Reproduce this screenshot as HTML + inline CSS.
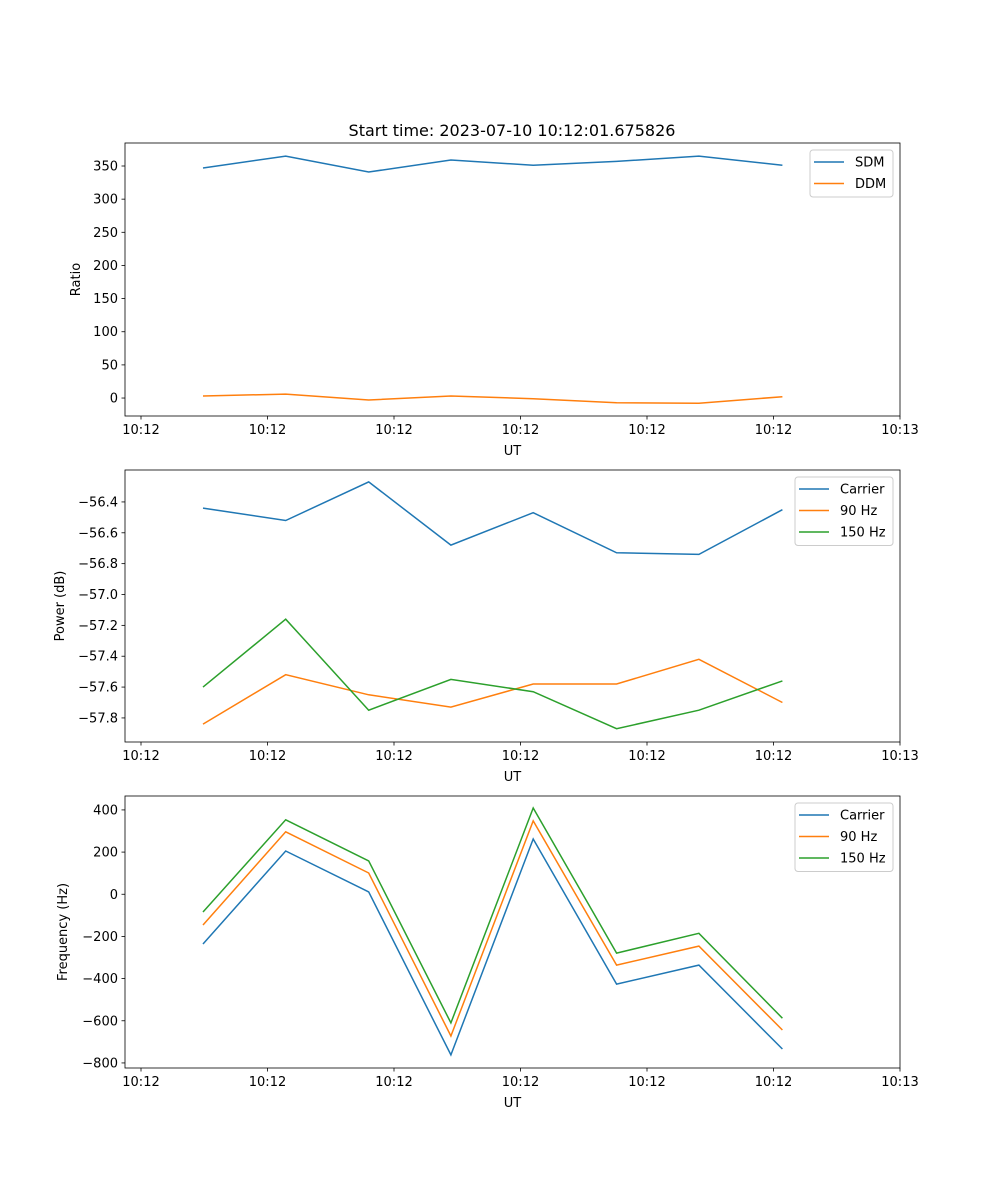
<!DOCTYPE html>
<html><head><meta charset="utf-8">
<style>
html,body{margin:0;padding:0;background:#fff;}
svg{display:block;font-family:"DejaVu Sans","Liberation Sans",sans-serif;}
</style></head>
<body>
<svg id="fig" width="1000" height="1200" xmlns="http://www.w3.org/2000/svg">
<rect width="1000" height="1200" fill="#fff"/>
<text x="512" y="136" text-anchor="middle" font-size="16" fill="#000">Start time: 2023-07-10 10:12:01.675826</text>
</svg>
<script>
const times = [0.49, 1.144, 1.80, 2.45, 3.10, 3.76, 4.41, 5.07];
const xTickVals = [0,1,2,3,4,5,6];
const xTickLabels = ["10:12","10:12","10:12","10:12","10:12","10:12","10:13"];
const sdm = [347, 365, 341, 359, 351, 357, 365, 351];
const ddm = [3, 6, -3, 3, -1, -7, -8, 2];
const pwrCarrier = [-56.44, -56.52, -56.27, -56.68, -56.47, -56.73, -56.74, -56.45];
const pwr90 = [-57.84, -57.52, -57.65, -57.73, -57.58, -57.58, -57.42, -57.70];
const pwr150 = [-57.60, -57.16, -57.75, -57.55, -57.63, -57.87, -57.75, -57.56];
const frqCarrier = [-236, 205, 11, -762, 262, -426, -336, -734];
const frq90 = [-146, 296, 101, -672, 348, -336, -246, -644];
const frq150 = [-84, 353, 158, -610, 409, -279, -185, -588];
const ratioTicks = [0,50,100,150,200,250,300,350];
const powerTicks = [-57.8,-57.6,-57.4,-57.2,-57.0,-56.8,-56.6,-56.4];
const freqTicks = [-800,-600,-400,-200,0,200,400];

const NS="http://www.w3.org/2000/svg";
const svg=document.getElementById('fig');
function mk(tag,attrs,parent){const e=document.createElementNS(NS,tag);for(const k in attrs)e.setAttribute(k,attrs[k]);(parent||svg).appendChild(e);return e;}
const L=125,R=900;
const xmin=-0.1265,xmax=6;
function sx(v){return L+(v-xmin)/(xmax-xmin)*(R-L);}
const C=['#1f77b4','#ff7f0e','#2ca02c'];

function panel(id,top,bot,ymin,ymax,yTicks,fmt,ylabel,series,names,legend){
  const g=mk('g',{});
  
  
  const sy=v=>bot-(v-ymin)/(ymax-ymin)*(bot-top);
  // lines
  series.forEach((s,i)=>{
    const p=mk('polyline',{points:s.map((v,j)=>sx(times[j]).toFixed(1)+','+sy(v).toFixed(1)).join(' '),fill:'none',stroke:C[i],'stroke-width':1.5},g);
    
    
  });
  const fr=mk('rect',{x:L,y:top,width:R-L,height:bot-top,fill:'none',stroke:'#000','stroke-width':0.8},g);
  
  
  // x ticks
  xTickVals.forEach((v,i)=>{
    const x=sx(v);
    mk('line',{x1:x,y1:bot,x2:x,y2:bot+3.5,stroke:'#000','stroke-width':0.8},g);
    const t=mk('text',{x:x,y:bot+18,'text-anchor':'middle','font-size':13},g);
    t.textContent=xTickLabels[i];
    
    
  });
  const xl=mk('text',{x:(L+R)/2,y:bot+39,'text-anchor':'middle','font-size':13},g);
  xl.textContent='UT';
  
  
  yTicks.forEach(v=>{
    const y=sy(v);
    mk('line',{x1:L,y1:y,x2:L-3.5,y2:y,stroke:'#000','stroke-width':0.8},g);
    const t=mk('text',{x:L-7,y:y+4.5,'text-anchor':'end','font-size':13},g);
    t.textContent=fmt(v);
    
    
  });
  const yl=mk('text',{x:0,y:0,'text-anchor':'middle','font-size':13,transform:`translate(${legend.ylx},${(top+bot)/2}) rotate(-90)`},g);
  yl.textContent=ylabel;
  
  
  // legend
  const lg=mk('g',{},g);
  
  
  mk('rect',{x:legend.x,y:legend.y,width:893-legend.x,height:names.length*21.5+4,rx:3,fill:'#fff','fill-opacity':0.8,stroke:'#ccc','stroke-width':1},lg);
  names.forEach((n,i)=>{
    const y=legend.y+12+i*21.5;
    mk('line',{x1:legend.x+4,y1:y,x2:legend.x+34,y2:y,stroke:C[i],'stroke-width':1.5},lg);
    const t=mk('text',{x:legend.x+45,y:y+4.5,'font-size':13},lg);
    t.textContent=n;
    
    
  });
}
panel('ratio',143,416,-27.1,384.7,ratioTicks,v=>String(v),'Ratio',[sdm,ddm],['SDM','DDM'],{x:810,y:150,ylx:80});
panel('power',470,742,-57.956,-56.193,powerTicks,v=>'\u2212'+Math.abs(v).toFixed(1),'Power (dB)',[pwrCarrier,pwr90,pwr150],['Carrier','90 Hz','150 Hz'],{x:795,y:477,ylx:64});
panel('frequency',796,1068,-824,466,freqTicks,v=>(v<0?'\u2212':'')+Math.abs(v),'Frequency (Hz)',[frqCarrier,frq90,frq150],['Carrier','90 Hz','150 Hz'],{x:795,y:803,ylx:67});
</script>
</body></html>
